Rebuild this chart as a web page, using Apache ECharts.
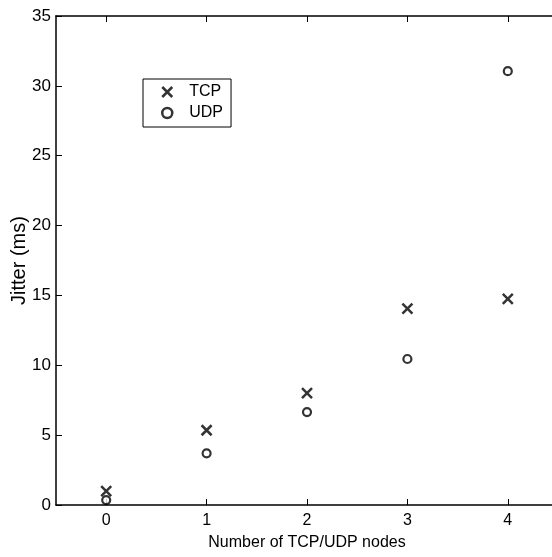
<!DOCTYPE html>
<html>
<head>
<meta charset="utf-8">
<script src="https://cdn.jsdelivr.net/npm/echarts@6/dist/echarts.min.js"></script>
<style>
  html, body { margin: 0; padding: 0; background: #fff; }
  #chart { width: 552px; height: 557px; }
</style>
</head>
<body>
<div id="chart"></div>
<script>
(function () {
    // data
    var nodes = [0, 1, 2, 3, 4];
    var tcpJitter = [1.0, 5.35, 8.0, 14.05, 14.75];
    var udpJitter = [0.35, 3.7, 6.65, 10.45, 31.05];
    var yTicks = [0, 5, 10, 15, 20, 25, 30, 35];

    var font = 'Liberation Sans, Arial, sans-serif';
    var cross = 'path://M0,0L10,10M10,0L0,10';

    function pairs(ys) {
        return nodes.map(function (x, i) { return [x, ys[i]]; });
    }

    var myChart = echarts.init(document.getElementById('chart'));
    var option = {
        animation: false,
        textStyle: { fontFamily: font },
        grid: { left: 56, top: 16, width: 502, bottom: 52, containLabel: false, outerBoundsMode: 'none' },
        legend: {
            left: 143, top: 79,
            orient: 'vertical',
            padding: [5, 8, 6, 18],
            itemGap: 5,
            itemWidth: 10, itemHeight: 10,
            borderColor: '#000', borderWidth: 1,
            itemStyle: { borderWidth: 2.5 },
            textStyle: { fontFamily: font, fontSize: 16, color: '#000', padding: [0, 0, 0, 12] },
            data: ['TCP', 'UDP']
        },
        xAxis: [{
            type: 'value',
            min: -0.5, max: 4.5,
            name: 'Number of TCP/UDP nodes',
            nameLocation: 'middle',
            nameGap: 30,
            nameTextStyle: { fontFamily: font, fontSize: 16, color: '#000' },
            axisLine: { onZero: false, lineStyle: { color: '#000', width: 1.5 } },
            axisTick: { inside: true, length: 6, customValues: nodes, lineStyle: { color: '#000' } },
            axisLabel: { customValues: nodes, fontSize: 16, color: '#000', margin: 8 },
            splitLine: { show: false }
        }, {
            type: 'value',
            position: 'top',
            min: -0.5, max: 4.5,
            axisLine: { onZero: false, lineStyle: { color: '#000', width: 1.5 } },
            axisTick: { inside: true, length: 6, customValues: nodes, lineStyle: { color: '#000' } },
            axisLabel: { show: false },
            splitLine: { show: false }
        }],
        yAxis: {
            type: 'value',
            min: 0, max: 35, interval: 5,
            name: 'Jitter (ms)',
            nameLocation: 'middle',
            nameGap: 27,
            nameMoveOverlap: false,
            nameTextStyle: { fontFamily: font, fontSize: 20, color: '#000' },
            axisLine: { show: true, onZero: false, lineStyle: { color: '#000', width: 1.5 } },
            axisTick: { show: true, inside: true, length: 6, lineStyle: { color: '#000' } },
            axisLabel: {
                fontSize: 17, color: '#000', margin: 5,
                formatter: function (v) { return yTicks.indexOf(v) >= 0 ? String(v) : ''; }
            },
            splitLine: { show: false }
        },
        series: [{
            name: 'TCP',
            type: 'scatter',
            symbol: cross,
            symbolSize: 10,
            itemStyle: { color: 'rgba(0,0,0,0)', borderColor: '#000', borderWidth: 2.5 },
            data: pairs(tcpJitter)
        }, {
            name: 'UDP',
            type: 'scatter',
            symbol: 'circle',
            symbolSize: 8,
            itemStyle: { color: '#fff', borderColor: '#000', borderWidth: 2.2 },
            data: pairs(udpJitter)
        }]
    };
    myChart.setOption(option);
})();
</script>
</body>
</html>
